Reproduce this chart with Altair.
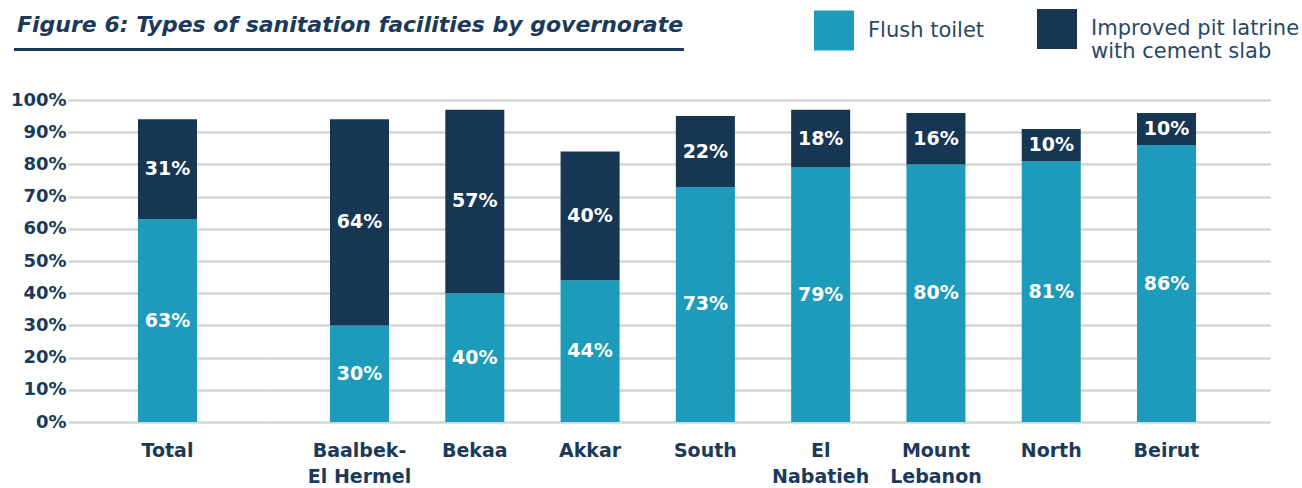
import altair as alt
import pandas as pd

# Governorates (line breaks mark how the axis labels wrap)
categories = ["Total", "Baalbek-\nEl Hermel", "Bekaa", "Akkar", "South",
              "El\nNabatieh", "Mount\nLebanon", "North", "Beirut"]
flush_toilet = [63, 30, 40, 44, 73, 79, 80, 81, 86]
pit_latrine = [31, 64, 57, 40, 22, 18, 16, 10, 10]

series = ["Flush toilet", "Improved pit latrine with cement slab"]
colors = ["#1c9cba", "#163654"]
y_ticks = [0, 10, 20, 30, 40, 50, 60, 70, 80, 90, 100]

NAVY = "#1b3a5a"
FONT = "DejaVu Sans"

rows = []
for cat, f, p in zip(categories, flush_toilet, pit_latrine):
    rows.append({"category": cat, "type": series[0], "value": f, "order": 0})
    rows.append({"category": cat, "type": series[1], "value": p, "order": 1})
df = pd.DataFrame(rows)

# Legend swatches: a 44px square with a 4px white edge leaves a 40px
# coloured square, and keeps both entries the same height.
color = alt.Color(
    "type:N",
    scale=alt.Scale(domain=series, range=colors),
    legend=alt.Legend(
        title=None,
        orient="none",
        direction="horizontal",
        legendX=742,
        legendY=-95,
        symbolType="square",
        symbolSize=1936,
        symbolStrokeWidth=4,
        symbolStrokeColor="white",
        symbolOpacity=1,
        labelFont=FONT,
        labelFontSize=21,
        labelColor="#2a4866",
        labelOffset=10,
        labelLimit=400,
        columnPadding=42,
        labelExpr="datum.label == 'Flush toilet' ? datum.label : ['Improved pit latrine', 'with cement slab']",
    ),
)

y_scale = alt.Scale(domain=[0, 100])


def y_axis(show_labels):
    return alt.Axis(
        values=y_ticks,
        labelExpr="datum.value + '%'",
        labelFont=FONT,
        labelFontSize=18,
        labelFontWeight="bold",
        labelColor=NAVY,
        labelPadding=2,
        labels=show_labels,
        labelOverlap=False,
        ticks=False,
        domain=False,
        grid=True,
        gridColor="#d5d5d5",
        gridWidth=2.5,
        title=None,
    )


def panel(cats, width, pad_outer, align, show_y):
    data = df[df["category"].isin(cats)]
    x = alt.X(
        "category:N",
        sort=cats,
        title=None,
        scale=alt.Scale(paddingInner=0.488, paddingOuter=pad_outer, align=align),
        axis=alt.Axis(
            labelAngle=0,
            labelFont=FONT,
            labelFontSize=19,
            labelFontWeight="bold",
            labelColor=NAVY,
            labelPadding=19,
            labelLineHeight=26,
            labelExpr="split(datum.label, '\\n')",
            ticks=False,
            domain=False,
            grid=False,
        ),
    )
    base = alt.Chart(data).transform_stack(
        stack="value", as_=["y0", "y1"], groupby=["category"],
        sort=[alt.SortField("order", order="ascending")],
    ).transform_calculate(mid="(datum.y0 + datum.y1) / 2")

    bars = base.mark_bar().encode(
        x=x,
        y=alt.Y("y0:Q", scale=y_scale, axis=y_axis(show_y)),
        y2="y1:Q",
        color=color,
    )
    labels = base.mark_text(
        font=FONT, fontSize=19, fontWeight="bold", color="white", baseline="middle"
    ).encode(
        x=x,
        y=alt.Y("mid:Q", scale=y_scale, axis=y_axis(show_y)),
        text=alt.Text("label:N"),
    ).transform_calculate(label="datum.value + '%'")
    layers = [bars, labels]
    if show_y:
        # rule under the figure title
        underline = alt.Chart(pd.DataFrame({"k": [0]})).mark_rule(
            color=NAVY, strokeWidth=3
        ).encode(x=alt.value(-54), x2=alt.value(616), y=alt.value(-50.5))
        layers.append(underline)
    return alt.layer(*layers).properties(width=width, height=322)


left = panel(categories[:1], 199, 0.607, 0.5, True)
right = panel(categories[1:], 1003, 0.594, 0.46, False)

chart = alt.hconcat(left, right, spacing=0, bounds="flush").resolve_scale(
    color="shared"
).properties(
    title=alt.TitleParams(
        "Figure 6: Types of sanitation facilities by governorate",
        anchor="start",
        frame="group",
        font=FONT,
        fontSize=22,
        fontStyle="italic",
        fontWeight="bold",
        color=NAVY,
        offset=0,
        dx=-51,
        dy=32,
    ),
    padding={"left": 10, "top": 5, "right": 0, "bottom": 0},
    background="white",
).configure_view(stroke=None)

chart.save("out.html", embed_options={"renderer": "svg", "actions": False})
